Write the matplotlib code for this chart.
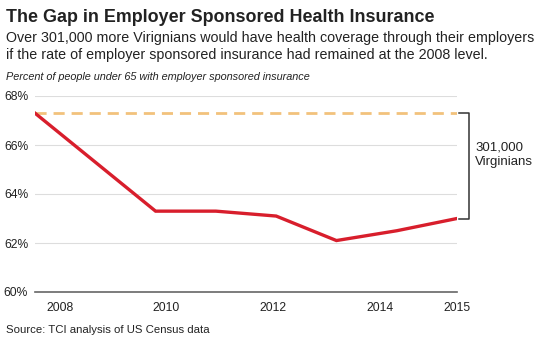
import matplotlib.pyplot as plt

plt.rcParams['font.family'] = ['Liberation Sans', 'DejaVu Sans']

years = [2008, 2010, 2011, 2012, 2013, 2014, 2015]
rate = [67.3, 63.3, 63.3, 63.1, 62.1, 62.5, 63.0]
level_2008 = 67.3
y_ticks = [60, 62, 64, 66, 68]
# the original's year labels sit off the data points; keep them where they were drawn
x_tick_pos = [2008.42, 2010.18, 2011.95, 2013.72, 2015.0]
x_tick_labels = ['2008', '2010', '2012', '2014', '2015']

fig = plt.figure(figsize=(5.4, 3.43), dpi=100)
ax = fig.add_axes([35 / 540, 1 - 292 / 343, (457 - 35) / 540, 196 / 343])

ax.plot(years, rate, color='#d81e2c', lw=2.4, solid_joinstyle='miter', zorder=3)
ax.axhline(level_2008, color='#f2c27c', lw=2, ls=(0, (4, 2.5)), zorder=2)

ax.set_xlim(2008, 2015)
ax.set_ylim(60, 68)
ax.set_yticks(y_ticks)
ax.set_yticklabels([f'{v}%' for v in y_ticks])
ax.set_xticks(x_tick_pos)
ax.set_xticklabels(x_tick_labels)
ax.tick_params(length=0, labelsize=8.7, colors='#222222')
ax.tick_params(axis='x', pad=7)
ax.tick_params(axis='y', pad=5)
ax.grid(axis='y', color='#dddddd', lw=0.8)
ax.set_axisbelow(True)
for s in ['top', 'left', 'right']:
    ax.spines[s].set_visible(False)
ax.spines['bottom'].set_color('#666666')
ax.spines['bottom'].set_linewidth(1.2)

# bracket marking the gap
bx = [2015.04, 2015.2, 2015.2, 2015.04]
by = [level_2008, level_2008, rate[-1], rate[-1]]
ax.plot(bx, by, color='#333333', lw=1.1, clip_on=False)
ax.text(2015.3, (level_2008 + rate[-1]) / 2 + 0.45, '301,000\nVirginians', fontsize=9.5,
        va='center', ha='left', linespacing=1.35, color='#222222')

fig.text(6 / 540, 1 - 17 / 343, 'The Gap in Employer Sponsored Health Insurance',
         fontsize=12.9, fontweight='bold', va='center', color='#222222')
fig.text(6 / 540, 1 - 46.5 / 343,
         'Over 301,000 more Virignians would have health coverage through their employers\n'
         'if the rate of employer sponsored insurance had remained at the 2008 level.',
         fontsize=10.3, va='center', linespacing=1.33, color='#222222')
fig.text(6 / 540, 1 - 77 / 343, 'Percent of people under 65 with employer sponsored insurance',
         fontsize=7.8, style='italic', va='center', color='#222222')
fig.text(6 / 540, 1 - 330 / 343, 'Source: TCI analysis of US Census data',
         fontsize=8.2, va='center', color='#222222')

fig.savefig('out.png', dpi=100)
